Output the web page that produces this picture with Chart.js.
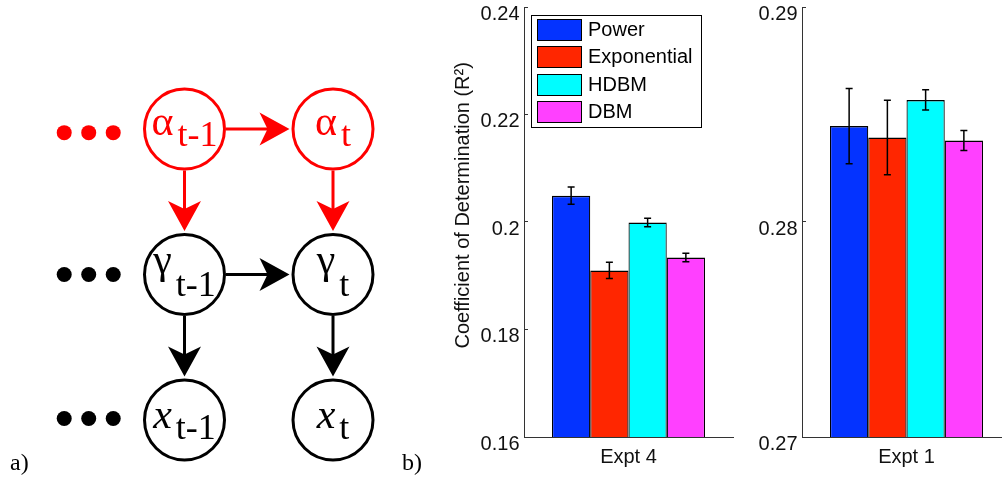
<!DOCTYPE html>
<html>
<head>
<meta charset="utf-8">
<script src="https://cdn.jsdelivr.net/npm/chart.js@4.4.1/dist/chart.umd.min.js"></script>
<style>
  html, body { margin: 0; padding: 0; background: #fff; overflow: hidden; }
  body { width: 1002px; height: 479px; position: relative; }
  canvas { position: absolute; top: 0; }
  #graph { left: 0; }
  #expt4 { left: 440px; }
  #expt1 { left: 740px; }
</style>
</head>
<body>
<canvas id="graph" width="440" height="479"></canvas>
<canvas id="expt4" width="300" height="479"></canvas>
<canvas id="expt1" width="280" height="479"></canvas>
<script>
// model comparison data
const models = ['Power', 'Exponential', 'HDBM', 'DBM'];
const modelColors = ['#0433ff', '#ff2600', '#00fdff', '#ff40ff'];

const expt4Labels = ['Expt 4'];
const expt4R2 = [0.2049, 0.1910, 0.1999, 0.1934];
const expt4Err = [0.0016, 0.0015, 0.0008, 0.0008];
const expt4Ticks = [0.16, 0.18, 0.2, 0.22, 0.24];

const expt1Labels = ['Expt 1'];
const expt1R2 = [0.28446, 0.28393, 0.28568, 0.28379];
const expt1Err = [0.00175, 0.00173, 0.00047, 0.00047];
const expt1Ticks = [0.27, 0.28, 0.29];

// graphical model: layers (rows) and time steps (columns)
const layers = ['α', 'γ', 'x'];
const steps = ['t-1', 't'];
const layerRow = [0, 1, 2];
const stepCol = [1, 2];
const dotX = [0.19, 0.355, 0.52];
const dotRow = [0.025, 1, 1.99];
// [layer, step] -> [layer, step]
const edges = [
  [[0, 0], [0, 1]],
  [[0, 0], [1, 0]],
  [[0, 1], [1, 1]],
  [[1, 0], [1, 1]],
  [[1, 0], [2, 0]],
  [[1, 1], [2, 1]]
];

const SANS = '"Liberation Sans", Arial, Helvetica, sans-serif';
const SERIF = '"Liberation Serif", "Times New Roman", serif';
Chart.defaults.font.family = SANS;
Chart.defaults.color = '#000';

const layerColor = ['#ff0000', '#000000', '#000000'];
const NODE_R = 40;

/*===== GRAPH: arrows, labels ===== */
const graphDecor = {
  id: 'graphDecor',
  afterDatasetsDraw(chart) {
    const { ctx } = chart;
    const sx = chart.scales.x, sy = chart.scales.y;
    const px = (l, s) => [sx.getPixelForValue(stepCol[s]), sy.getPixelForValue(layerRow[l])];

    ctx.save();
    edges.forEach(([from, to]) => {
      const [x1, y1] = px(from[0], from[1]);
      const [x2, y2] = px(to[0], to[1]);
      const len = Math.hypot(x2 - x1, y2 - y1);
      const ux = (x2 - x1) / len, uy = (y2 - y1) / len;
      const nx = -uy, ny = ux;
      const sxp = x1 + ux * (NODE_R + 1.5), syp = y1 + uy * (NODE_R + 1.5);
      const tx = x2 - ux * (NODE_R + 3.5), ty = y2 - uy * (NODE_R + 3.5);
      const col = layerColor[from[0]];
      ctx.strokeStyle = col;
      ctx.fillStyle = col;
      ctx.lineWidth = 3;
      ctx.beginPath();
      ctx.moveTo(sxp, syp);
      ctx.lineTo(tx - ux * 20, ty - uy * 20);
      ctx.stroke();
      // arrow head
      ctx.beginPath();
      ctx.moveTo(tx, ty);
      ctx.lineTo(tx - ux * 30 + nx * 16.5, ty - uy * 30 + ny * 16.5);
      ctx.lineTo(tx - ux * 22, ty - uy * 22);
      ctx.lineTo(tx - ux * 30 - nx * 16.5, ty - uy * 30 - ny * 16.5);
      ctx.closePath();
      ctx.fill();
    });

    // node labels
    const mainOff = [6, -2, 8];
    const subOff = [17, 21, 19];
    layers.forEach((sym, l) => {
      steps.forEach((sub, s) => {
        const [cx, cy] = px(l, s);
        const mainFont = (l === 2 ? 'italic ' : '') + '42px ' + SERIF;
        const subFont = '36px ' + SERIF;
        ctx.font = mainFont;
        const wm = ctx.measureText(sym).width;
        ctx.font = subFont;
        const ws = ctx.measureText(sub).width;
        const x0 = cx - (wm + 4 + ws) / 2;
        ctx.fillStyle = layerColor[l];
        ctx.textBaseline = 'alphabetic';
        ctx.textAlign = 'left';
        ctx.font = mainFont;
        ctx.fillText(sym, x0, cy + mainOff[l]);
        ctx.font = subFont;
        ctx.fillText(sub, x0 + wm + 4, cy + subOff[l]);
      });
    });

    // panel letters
    ctx.fillStyle = '#000';
    ctx.font = '24px ' + SERIF;
    ctx.fillText('a)', 10, 470);
    ctx.fillText('b)', 402, 470);
    ctx.restore();
  }
};

const dotData = (rows) => rows.flatMap(r => dotX.map(x => ({ x: x, y: dotRow[r] })));
const nodeData = (ls) => ls.flatMap(l => stepCol.map(c => ({ x: c, y: layerRow[l] })));

new Chart('graph', {
  type: 'scatter',
  data: {
    datasets: [
      { data: dotData([0]), pointRadius: 7.5, borderWidth: 0, backgroundColor: layerColor[0] },
      { data: dotData([1, 2]), pointRadius: 7.5, borderWidth: 0, backgroundColor: layerColor[1] },
      { data: nodeData([0]), pointRadius: NODE_R, borderWidth: 3, borderColor: layerColor[0], backgroundColor: '#fff' },
      { data: nodeData([1, 2]), pointRadius: NODE_R, borderWidth: 3, borderColor: layerColor[1], backgroundColor: '#fff' }
    ]
  },
  options: {
    responsive: false,
    animation: false,
    events: [],
    devicePixelRatio: 1,
    layout: { padding: 0, autoPadding: false },
    plugins: { legend: { display: false }, tooltip: { enabled: false } },
    scales: {
      x: { type: 'linear', display: false, min: -0.2424, max: 2.7205 },
      y: { type: 'linear', display: false, reverse: true, min: -0.8866, max: 2.4055 }
    }
  },
  plugins: [graphDecor]
});

/*===== BAR CHARTS ===== */
const errorBars = {
  id: 'errorBars',
  afterDatasetsDraw(chart) {
    const { ctx } = chart;
    const y = chart.scales.y;
    ctx.save();
    ctx.strokeStyle = '#000';
    ctx.lineWidth = 1.5;
    chart.data.datasets.forEach((ds, i) => {
      chart.getDatasetMeta(i).data.forEach((bar, j) => {
        const hi = y.getPixelForValue(ds.data[j] + ds.errors[j]);
        const lo = y.getPixelForValue(ds.data[j] - ds.errors[j]);
        ctx.beginPath();
        ctx.moveTo(bar.x, hi); ctx.lineTo(bar.x, lo);
        ctx.moveTo(bar.x - 3.5, hi); ctx.lineTo(bar.x + 3.5, hi);
        ctx.moveTo(bar.x - 3.5, lo); ctx.lineTo(bar.x + 3.5, lo);
        ctx.stroke();
      });
    });
    ctx.restore();
  }
};

const boxLegend = {
  id: 'boxLegend',
  afterDraw(chart) {
    const { ctx, chartArea } = chart;
    const x0 = Math.round(chartArea.left) + 7, y0 = Math.round(chartArea.top) + 8;
    ctx.save();
    ctx.fillStyle = '#fff';
    ctx.fillRect(x0, y0, 170, 112);
    ctx.strokeStyle = '#000';
    ctx.lineWidth = 1;
    ctx.strokeRect(x0 + 0.5, y0 + 0.5, 170, 112);
    ctx.font = '20px ' + SANS;
    ctx.textBaseline = 'middle';
    chart.data.datasets.forEach((ds, i) => {
      const py = y0 + 4 + Math.round(i * 27.3);
      ctx.fillStyle = ds.backgroundColor;
      ctx.fillRect(x0 + 6, py, 44, 21);
      ctx.strokeRect(x0 + 6.5, py + 0.5, 44, 21);
      ctx.fillStyle = '#000';
      ctx.fillText(ds.label, x0 + 57, py + 11);
    });
    ctx.restore();
  }
};

function barChart(id, labels, values, errors, ticks, yWidth, padRight, title, extra) {
  return new Chart(id, {
    type: 'bar',
    data: {
      labels: labels,
      datasets: models.map((m, i) => ({
        label: m,
        data: [values[i]],
        errors: [errors[i]],
        backgroundColor: modelColors[i],
        borderColor: '#000',
        borderWidth: { top: 1.5, left: 1.2, right: 1.2, bottom: 0 },
        categoryPercentage: 0.732,
        barPercentage: 1
      }))
    },
    options: {
      responsive: false,
      animation: false,
      events: [],
      devicePixelRatio: 1,
      layout: { padding: { top: 7, right: padRight, left: 0, bottom: 0 }, autoPadding: false },
      plugins: { legend: { display: false }, tooltip: { enabled: false } },
      scales: {
        x: {
          grid: { display: false, drawTicks: false },
          border: { display: true, color: '#333', width: 1 },
          ticks: { font: { size: 20 }, padding: 8, color: '#111' },
          afterFit: s => {
            s.height = 42;
            s.paddingLeft = 0;
            s.paddingRight = 0;
          }
        },
        y: {
          min: ticks[0],
          max: ticks[ticks.length - 1],
          afterBuildTicks: s => { s.ticks = ticks.map(v => ({ value: v })); },
          grid: { drawOnChartArea: false, drawTicks: true, tickLength: -4, color: '#333' },
          border: { display: true, color: '#333', width: 1 },
          ticks: {
            font: { size: 20, lineHeight: '14px' },
            padding: 8.5,
            color: '#111',
            // label sits just below its tick mark
            callback: v => ['', String(v)]
          },
          title: title ? {
            display: true,
            text: title,
            color: '#111',
            font: { size: 20 },
            padding: { top: 11, bottom: 0 }
          } : { display: false },
          afterFit: s => {
            s.width = yWidth;
            s.paddingTop = 0;
            s.paddingBottom = 0;
          }
        }
      }
    },
    plugins: [errorBars].concat(extra || [])
  });
}

// leading spaces lift the rotated label a little above the axis middle
barChart('expt4', expt4Labels, expt4R2, expt4Err, expt4Ticks, 84, 7,
  '      Coefficient of Determination (R²)', [boxLegend]);
barChart('expt1', expt1Labels, expt1R2, expt1Err, expt1Ticks, 62, 9, null);
</script>
</body>
</html>
